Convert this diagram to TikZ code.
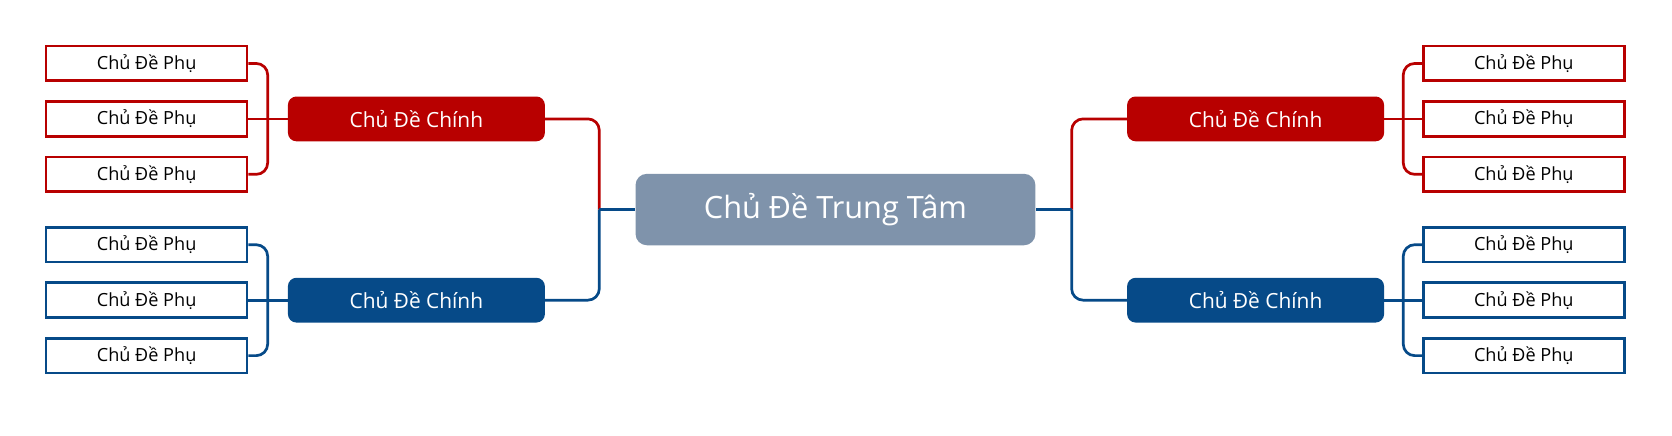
\documentclass[tikz,border=0pt]{standalone}
\usepackage{fontspec}
\setmainfont{Open Sans}
\definecolor{cred}{HTML}{B80000}
\definecolor{cblue}{HTML}{064A88}
\definecolor{cctr}{HTML}{7F93AB}
\begin{document}
\begin{tikzpicture}[x=0.75pt,y=-0.75pt,
  subbox/.style={draw=#1, line width=1.9pt, fill=white, inner sep=0pt,
    minimum width=141.4pt, minimum height=24.4pt, font=\fontsize{12.75}{12.75}\selectfont},
  mainbox/.style={fill=#1, rounded corners=6pt, inner sep=0pt, text=white,
    minimum width=180.75pt, minimum height=31.5pt, font=\fontsize{14.7}{14.7}\selectfont},
  ctrbox/.style={fill=cctr, rounded corners=8pt, inner sep=0pt, text=white,
    minimum width=281.25pt, minimum height=50.25pt, font=\fontsize{21.6}{21.6}\selectfont},
  conn/.style={draw=#1, line width=1.9pt},
]
\useasboundingbox (0,0) rectangle (1568,408);
% center
\node[ctrbox] (ctr) at (783.5,196.5) {Chủ Đề Trung Tâm};
% main nodes
\node[mainbox=cred] (ml1) at (390.5,111.5) {Chủ Đề Chính};
\node[mainbox=cblue] (ml2) at (390.5,281.5) {Chủ Đề Chính};
\node[mainbox=cred] (mr1) at (1177.5,111.5) {Chủ Đề Chính};
\node[mainbox=cblue] (mr2) at (1177.5,281.5) {Chủ Đề Chính};
% trunk coordinates
\coordinate (tl) at (562,196.5);
\coordinate (tr) at (1005,196.5);
\coordinate (bl1) at (251,111.5);
\coordinate (bl2) at (251,281.5);
\coordinate (br1) at (1316,111.5);
\coordinate (br2) at (1316,281.5);
% sub nodes left
\node[subbox=cred] (sl1) at (137.5,59.5) {Chủ Đề Phụ};
\node[subbox=cred] (sl2) at (137.5,111.5) {Chủ Đề Phụ};
\node[subbox=cred] (sl3) at (137.5,163.5) {Chủ Đề Phụ};
\node[subbox=cblue] (sl4) at (137.5,229.5) {Chủ Đề Phụ};
\node[subbox=cblue] (sl5) at (137.5,281.5) {Chủ Đề Phụ};
\node[subbox=cblue] (sl6) at (137.5,333.5) {Chủ Đề Phụ};
% sub nodes right
\node[subbox=cred] (sr1) at (1429,59.5) {Chủ Đề Phụ};
\node[subbox=cred] (sr2) at (1429,111.5) {Chủ Đề Phụ};
\node[subbox=cred] (sr3) at (1429,163.5) {Chủ Đề Phụ};
\node[subbox=cblue] (sr4) at (1429,229.5) {Chủ Đề Phụ};
\node[subbox=cblue] (sr5) at (1429,281.5) {Chủ Đề Phụ};
\node[subbox=cblue] (sr6) at (1429,333.5) {Chủ Đề Phụ};
% main to center
\draw[conn=cred, rounded corners=8pt] (ml1.east) -| (tl);
\draw[conn=cred, rounded corners=8pt] (mr1.west) -| (tr);
\draw[conn=cblue, rounded corners=8pt] (ml2.east) -| (tl);
\draw[conn=cblue, rounded corners=8pt] (mr2.west) -| (tr);
\draw[conn=cblue] (tl) -- (ctr.west);
\draw[conn=cblue] (tr) -- (ctr.east);
% left brackets
\draw[conn=cred, rounded corners=8pt] (sl1.east) -| (bl1);
\draw[conn=cred, rounded corners=8pt] (sl3.east) -| (bl1);
\draw[conn=cred] (sl2.east) -- (ml1.west);
\draw[conn=cblue, rounded corners=8pt] (sl4.east) -| (bl2);
\draw[conn=cblue, rounded corners=8pt] (sl6.east) -| (bl2);
\draw[conn=cblue] (sl5.east) -- (ml2.west);
% right brackets
\draw[conn=cred, rounded corners=8pt] (sr1.west) -| (br1);
\draw[conn=cred, rounded corners=8pt] (sr3.west) -| (br1);
\draw[conn=cred] (sr2.west) -- (mr1.east);
\draw[conn=cblue, rounded corners=8pt] (sr4.west) -| (br2);
\draw[conn=cblue, rounded corners=8pt] (sr6.west) -| (br2);
\draw[conn=cblue] (sr5.west) -- (mr2.east);
\end{tikzpicture}
\end{document}
